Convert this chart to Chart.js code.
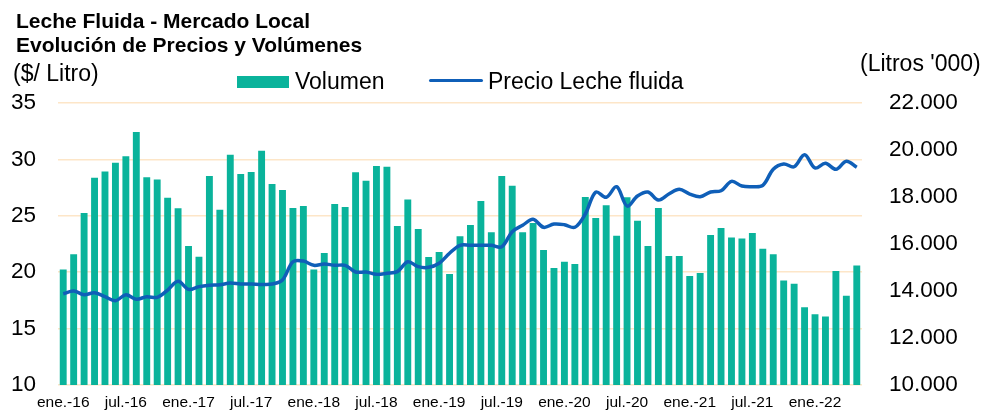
<!DOCTYPE html>
<html>
<head>
<meta charset="utf-8">
<script src="https://cdn.jsdelivr.net/npm/chart.js@4"></script>
<style>
  html, body { margin: 0; padding: 0; background: #fff; overflow: hidden; }
  #wrap { position: relative; width: 990px; height: 412px; font-family: "Liberation Sans", Arial, sans-serif; color: #000; }
  #wrap canvas { position: absolute; left: 0; top: 0; }
  .txt { position: absolute; white-space: nowrap; line-height: 1; }
  .ttl { font-weight: bold; font-size: 21px; left: 16px; }
  .big { font-size: 23px; }
  .sw { position: absolute; }
</style>
</head>
<body>
<div id="wrap">
  <canvas id="grafico" width="990" height="412" style="width:990px;height:412px"></canvas>
  <div class="txt ttl" style="top:10px">Leche Fluida - Mercado Local</div>
  <div class="txt ttl" style="top:34px">Evolución de Precios y Volúmenes</div>
  <div class="txt big" style="left:13px; top:62px">($/ Litro)</div>
  <div class="txt big" style="left:860px; top:52px">(Litros '000)</div>
  <div class="sw" style="left:237px; top:76px; width:52px; height:12px; background:#0ab39b"></div>
  <div class="txt big" style="left:295px; top:70px">Volumen</div>
  <div class="sw" style="left:429px; top:79px; width:54px; height:3px; background:#0f5fb8; border-radius:2px"></div>
  <div class="txt big" style="left:488px; top:70px">Precio Leche fluida</div>
</div>
<script>
// meses y años del eje x
var meses = ['ene.', 'feb.', 'mar.', 'abr.', 'may.', 'jun.', 'jul.', 'ago.', 'sep.', 'oct.', 'nov.', 'dic.'];
var anios = ['16', '17', '18', '19', '20', '21', '22'];

// volumen mensual (litros '000) - eje derecho
var volumen = [
    14920, 15560, 17320, 18820, 19080, 19460, 19730, 20770, 18840, 18750, 17970, 17520,
    15910, 15460, 18890, 17460, 19800, 18980, 19060, 19970, 18550, 18300, 17530, 17620,
    14920, 15620, 17700, 17570, 19050, 18690, 19320, 19290, 16770, 17890, 16640, 15450,
    15660, 14720, 16330, 16810, 17830, 16500, 18890, 18480, 16500, 16890, 15740, 14980,
    15250, 15150, 18000, 17110, 17650, 16350, 17990, 16990, 15910, 17530, 15490, 15490,
    14640, 14770, 16380, 16680, 16280, 16230, 16470, 15800, 15560, 14450, 14310, 13310,
    13010, 12920, 14850, 13800, 15080
];

// precio leche fluida ($/litro) - eje izquierdo
var precio = [
    18.09, 18.33, 18.00, 18.18, 17.83, 17.47, 18.00, 17.60, 17.83, 17.77, 18.42, 19.19,
    18.48, 18.72, 18.84, 18.89, 19.04, 18.95, 18.95, 18.92, 18.95, 19.31, 20.93, 20.99,
    20.61, 20.73, 20.61, 20.61, 20.02, 20.02, 19.81, 19.90, 20.05, 20.93, 20.49, 20.43,
    20.79, 21.68, 22.38, 22.38, 22.38, 22.38, 22.26, 23.59, 24.16, 24.69, 23.98, 24.27,
    24.21, 23.98, 25.16, 27.10, 26.64, 27.58, 25.87, 26.76, 27.11, 26.40, 26.93, 27.35,
    26.93, 26.69, 27.11, 27.22, 28.05, 27.64, 27.58, 27.70, 29.12, 29.59, 29.35, 30.42,
    29.24, 29.65, 29.12, 29.83, 29.30
];

// ticks de los ejes
var ticksPrecio = { min: 10, max: 35, paso: 5 };
var ticksVolumen = { min: 10000, max: 22000, paso: 2000 };

var etiquetas = [];
for (var i = 0; i < volumen.length; i++) {
    etiquetas.push(meses[i % 12] + '-' + anios[Math.floor(i / 12)]);
}

function miles(v) {
    return v.toString().replace(/\B(?=(\d{3})+(?!\d))/g, '.');
}

var fuente = '"Liberation Sans", Arial, sans-serif';

new Chart(document.getElementById('grafico'), {
    type: 'bar',
    data: {
        labels: etiquetas,
        datasets: [
            {
                type: 'line',
                label: 'Precio Leche fluida',
                data: precio,
                yAxisID: 'y',
                borderColor: '#0f5fb8',
                borderWidth: 3.5,
                pointRadius: 0,
                tension: 0.35,
                fill: false,
                order: 1
            },
            {
                label: 'Volumen',
                data: volumen,
                yAxisID: 'y1',
                backgroundColor: '#0ab39b',
                borderWidth: 0,
                barPercentage: 0.66,
                categoryPercentage: 1.0,
                order: 2
            }
        ]
    },
    options: {
        responsive: false,
        animation: false,
        devicePixelRatio: 1,
        layout: { padding: { top: 103, left: 0, right: 0, bottom: 0 } },
        plugins: {
            legend: { display: false },
            tooltip: { enabled: false }
        },
        scales: {
            x: {
                grid: { display: false, drawTicks: false },
                border: { display: false },
                ticks: {
                    autoSkip: false,
                    maxRotation: 0,
                    minRotation: 0,
                    padding: 8,
                    color: '#000',
                    font: { family: fuente, size: 15.5 },
                    callback: function (val, idx) {
                        return idx % 6 === 0 ? this.getLabelForValue(val) : '';
                    }
                },
                afterFit: function (s) { s.height = 27; }
            },
            y: {
                position: 'left',
                min: ticksPrecio.min,
                max: ticksPrecio.max,
                // separacion de etiquetas con tickLength invisible (ticks.padding agranda el margen inferior)
                grid: { color: '#fde6c8', lineWidth: 1.5, drawTicks: true, tickLength: 22, tickColor: 'rgba(0,0,0,0)' },
                border: { display: false },
                ticks: {
                    stepSize: ticksPrecio.paso,
                    padding: 0,
                    color: '#000',
                    font: { family: fuente, size: 22.5 }
                },
                afterFit: function (s) { s.width = 58; }
            },
            y1: {
                position: 'right',
                min: ticksVolumen.min,
                max: ticksVolumen.max,
                grid: { display: false, drawTicks: true, tickLength: 27 },
                border: { display: false },
                ticks: {
                    stepSize: ticksVolumen.paso,
                    padding: 0,
                    color: '#000',
                    font: { family: fuente, size: 22.5 },
                    callback: function (v) { return miles(v); }
                },
                afterFit: function (s) { s.width = 128; }
            }
        }
    }
});
</script>
</body>
</html>
